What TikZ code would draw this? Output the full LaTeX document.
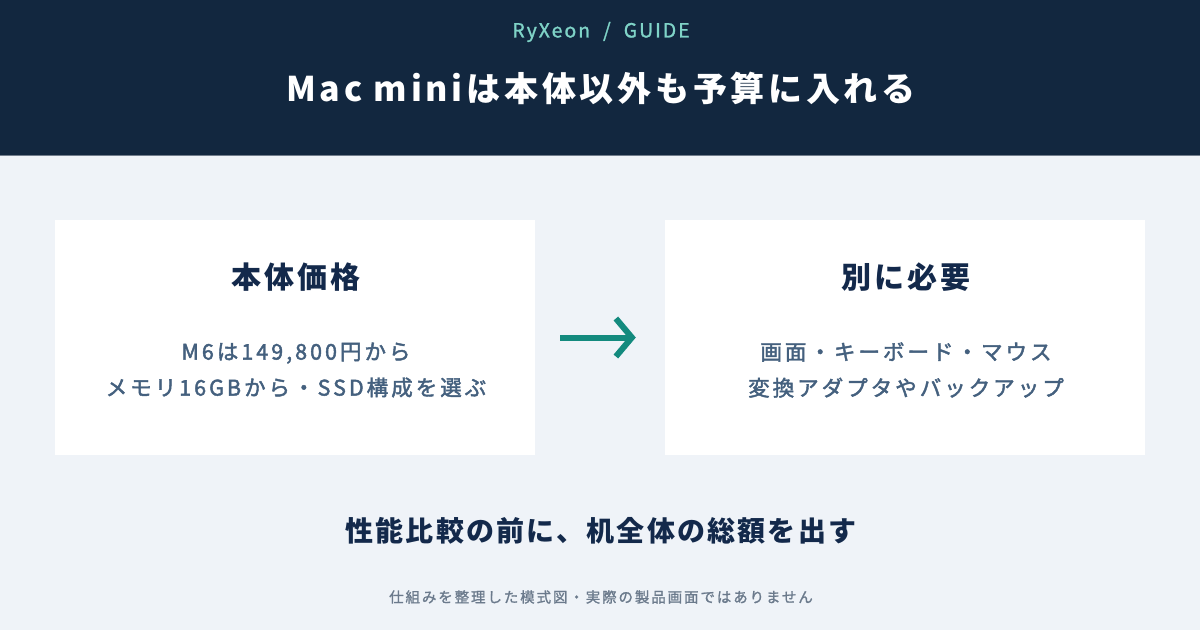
\documentclass[tikz,border=0pt]{standalone}
\usepackage{fontspec}
\setmainfont{Noto Sans CJK JP}
\newfontfamily\mediumfont[FakeBold=1.3]{Noto Sans CJK JP}
\newfontfamily\semifont[FakeBold=2]{Noto Sans CJK JP}
\usetikzlibrary{arrows.meta,calc}
\definecolor{navy}{HTML}{12273F}
\definecolor{pagebg}{HTML}{EFF3F8}
\definecolor{teal}{HTML}{138A7E}
\definecolor{tealtext}{HTML}{7FD3C7}
\definecolor{bodytext}{HTML}{44607E}
\definecolor{titletext}{HTML}{13294B}
\definecolor{foottext}{HTML}{6B7A8C}
\tikzset{
  card/.style={fill=white, draw=none, minimum width=480pt, minimum height=235pt, inner sep=0pt},
  cardtitle/.style={text=titletext, font=\fontsize{30}{36}\selectfont\bfseries\addfontfeatures{LetterSpace=10}, inner sep=0pt},
  cardbody/.style={text=bodytext, font=\fontsize{21.5}{36}\selectfont\semifont\addfontfeatures{LetterSpace=14}, align=center, inner sep=0pt},
  flow/.style={draw=teal, line width=6pt, -{Straight Barb[length=16pt, width=38pt]}},
}
\begin{document}
\begin{tikzpicture}[x=1pt,y=-1pt]
\useasboundingbox (0,0) rectangle (1200,630);
\fill[pagebg] (0,0) rectangle (1200,630);
\fill[navy] (0,0) rectangle (1200,155);
\draw[color=navy!60!white, line width=1pt] (0,155) -- (1200,155);
\node[text=tealtext, font=\fontsize{19.5}{22}\selectfont\mediumfont\addfontfeatures{LetterSpace=10}, inner sep=0pt] (brand) at (601,32) {RyXeon\hspace{13pt}/\hspace{13pt}GUIDE};
\node[text=white, font=\fontsize{34}{40}\selectfont\bfseries\addfontfeatures{LetterSpace=11}, inner sep=0pt] (title) at (601,88) {Mac miniは本体以外も予算に入れる};
\node[card] (left) at (295,337.5) {};
\node[card] (right) at (905,337.5) {};
\node[cardtitle] (ltitle) at (296,277) {本体価格};
\node[cardtitle] (rtitle) at (906,277) {別に必要};
\node[cardbody] (lbody) at (296,370) {M6は149,800円から\\メモリ16GBから・SSD構成を選ぶ};
\node[cardbody] (rbody) at (906,370) {画面・キーボード・マウス\\変換アダプタやバックアップ};
\draw[flow, shorten <=25pt, shorten >=29pt] (left.east) -- (right.west);
\node[text=titletext, font=\fontsize{28}{34}\selectfont\bfseries\addfontfeatures{LetterSpace=8}, inner sep=0pt] (summary) at (601,531) {性能比較の前に、机全体の総額を出す};
\node[text=foottext, font=\fontsize{14.5}{18}\selectfont\mediumfont\addfontfeatures{LetterSpace=13}, inner sep=0pt] (note) at (601,597) {仕組みを整理した模式図・実際の製品画面ではありません};
\end{tikzpicture}
\end{document}
